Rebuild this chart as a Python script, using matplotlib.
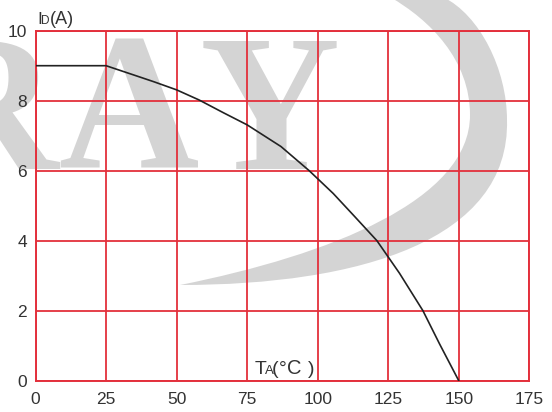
import numpy as np
import matplotlib.pyplot as plt
from matplotlib.path import Path
from matplotlib.patches import PathPatch

plt.rcParams['font.family'] = ['Liberation Sans', 'DejaVu Sans']

# derating curve: drain current vs ambient temperature
temp_c = [0, 25, 35, 42, 50, 58, 66.5, 75, 87, 97, 105.5, 113, 121, 129, 137.3, 143.2, 150]
id_amp = [9.0, 9.0, 8.73, 8.54, 8.31, 8.02, 7.66, 7.31, 6.69, 6.0, 5.35, 4.7, 4.0, 3.07, 2.0, 1.05, 0.0]

x_ticks = [0, 25, 50, 75, 100, 125, 150, 175]
y_ticks = [0, 2, 4, 6, 8, 10]

W, H = 552, 412
fig = plt.figure(figsize=(W / 100, H / 100), dpi=100)
ax = fig.add_axes([35.5 / W, 1 - 380.7 / H, 493.8 / W, 350 / H])
ax.set_facecolor('none')
ax.set_zorder(1)

red = '#e3303c'
wm = '#d4d4d4'
txt = '#333333'


def px(x, y):
    return (x / W, 1 - y / H)


# background logo: crescent swoosh
verts = [px(443, -3), px(480, 15), px(507, 70), px(507, 120),
         px(510, 240), px(360, 285), px(180, 285),
         px(330, 255), px(470, 200), px(470, 115),
         px(470, 60), px(430, 20), px(390, -3),
         px(443, -3)]
codes = [Path.MOVETO] + [Path.CURVE4] * 12 + [Path.CLOSEPOLY]
fig.add_artist(PathPatch(Path(verts, codes), transform=fig.transFigure,
                         facecolor=wm, edgecolor='none', zorder=0))
# background logo: letters
for ch, x0, ha in [('R', 58, 'right'), ('A', 128, 'center'), ('Y', 270, 'center')]:
    fig.text(x0 / W, 1 - 169 / H, ch, fontsize=140, fontweight='bold',
             family='Liberation Serif', color=wm, va='baseline', ha=ha, zorder=0)

ax.plot(temp_c, id_amp, color='#222222', lw=1.2, zorder=3)

ax.set_xlim(0, 175)
ax.set_ylim(0, 10)
ax.set_xticks(x_ticks)
ax.set_yticks(y_ticks)
ax.grid(True, color=red, lw=1.3)
for s in ax.spines.values():
    s.set_color(red)
    s.set_linewidth(1.4)
ax.tick_params(length=0, labelsize=12.5, labelcolor=txt)
ax.tick_params(axis='x', pad=8)
ax.tick_params(axis='y', pad=6)

# axis captions
fig.text(37 / W, 1 - 24 / H, 'I', fontsize=12.5, color=txt)
fig.text(41 / W, 1 - 24 / H, 'D', fontsize=8.5, color=txt)
fig.text(50 / W, 1 - 24 / H, '(A)', fontsize=13, color=txt)
fig.text(255 / W, 1 - 374 / H, 'T', fontsize=14, color=txt)
fig.text(264.5 / W, 1 - 374 / H, 'A', fontsize=9.5, color=txt)
fig.text(272 / W, 1 - 374 / H, '(', fontsize=14, color=txt)
fig.text(279 / W, 1 - 374 / H, '°', fontsize=14, color=txt)
fig.text(287 / W, 1 - 374 / H, 'C', fontsize=14.5, color=txt)
fig.text(308 / W, 1 - 374 / H, ')', fontsize=14, color=txt)

fig.savefig('out.png', dpi=100)
